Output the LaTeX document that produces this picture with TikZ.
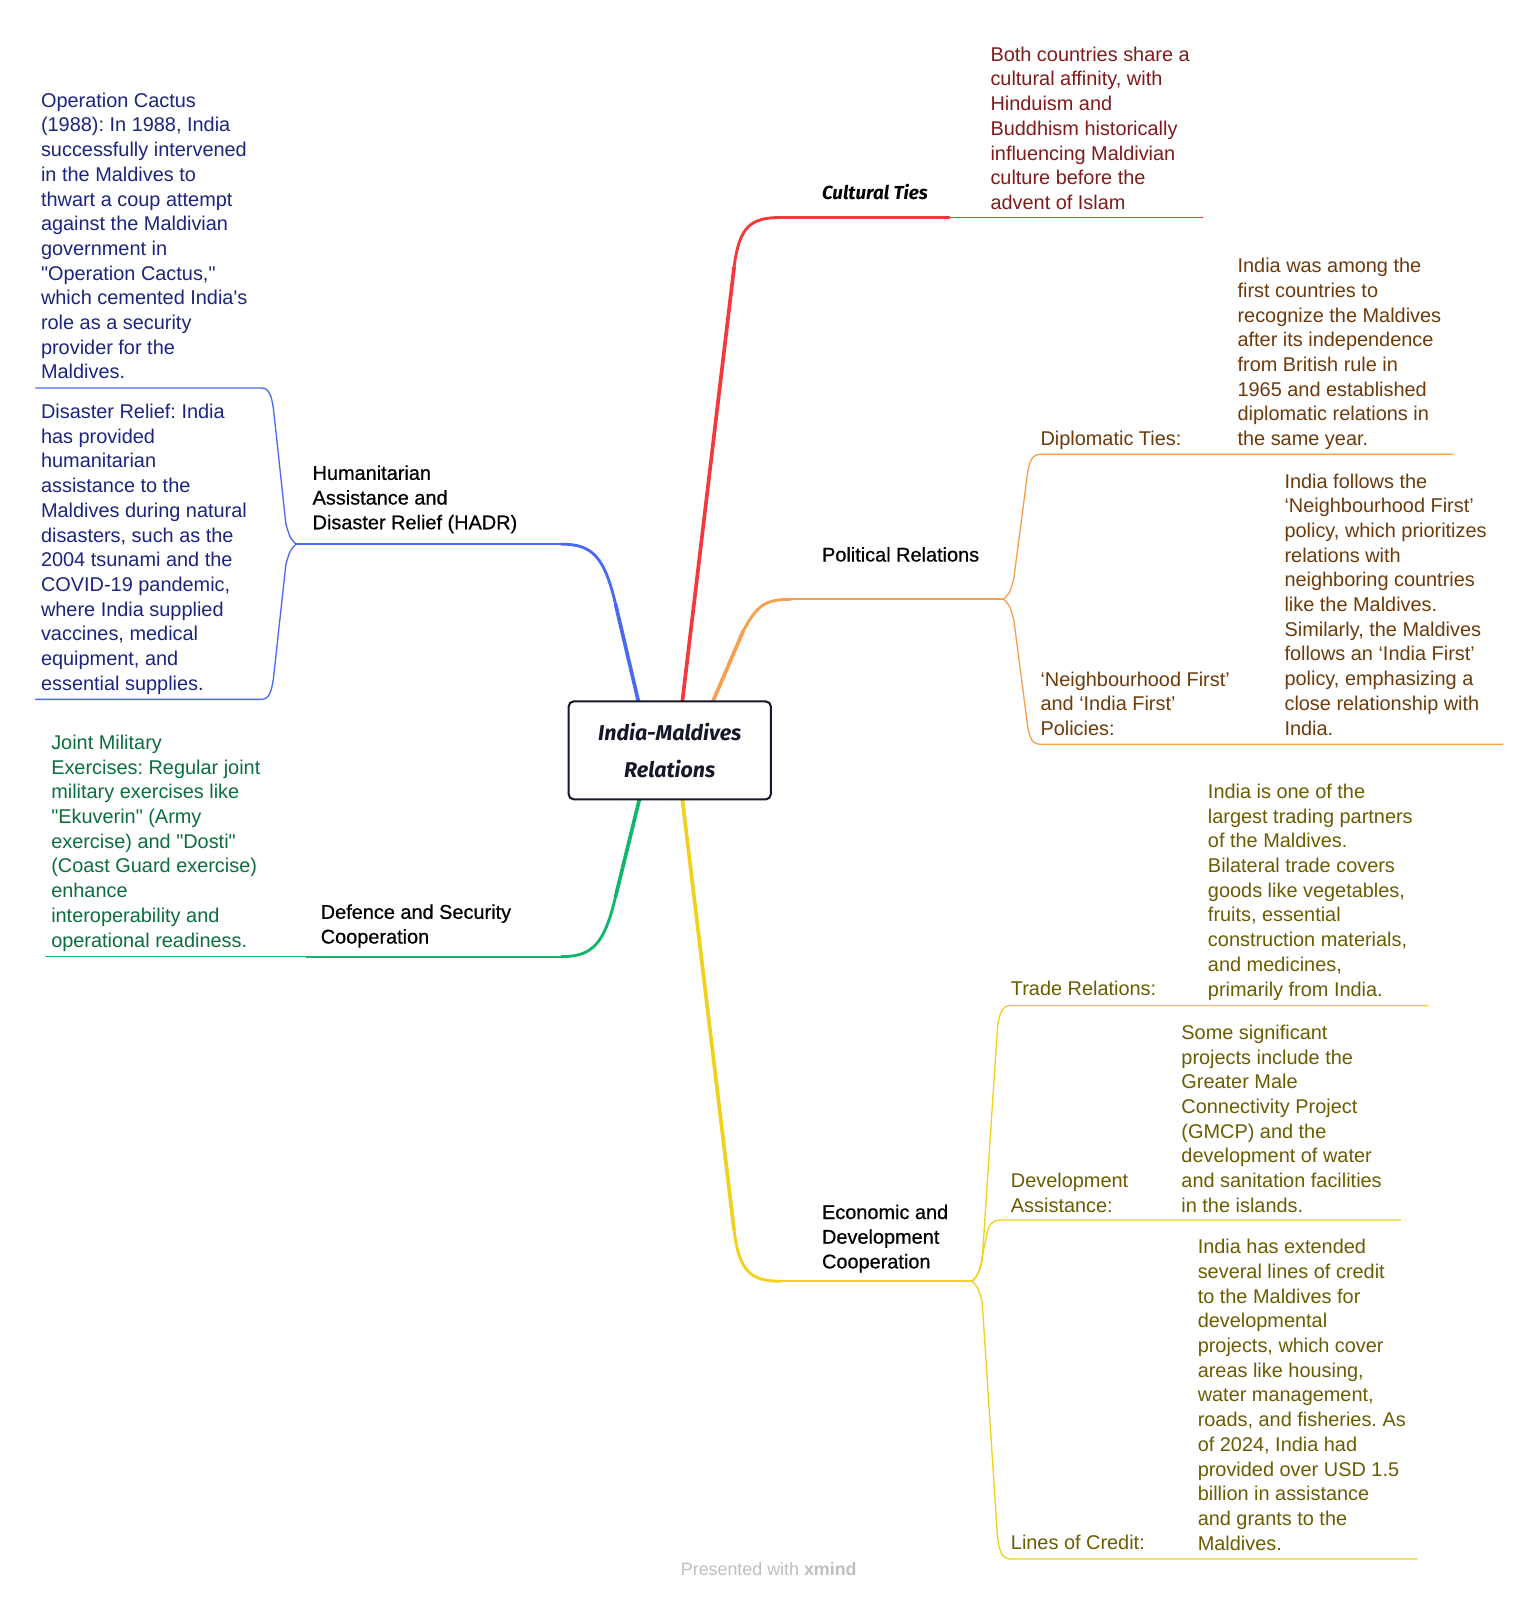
\documentclass[tikz,border=0pt]{standalone}
\usepackage{fontspec}
\setmainfont{Liberation Sans}[Ligatures=TeXOff]
\newfontfamily\handfont{Fira Sans}
\newfontfamily\medfont{Liberation Sans}[Ligatures=TeXOff,FakeBold=0.6]
\frenchspacing
\definecolor{cRed}{HTML}{F23A3A}
\definecolor{cOrange}{HTML}{F7A04E}
\definecolor{cBlue}{HTML}{4A6AF5}
\definecolor{cGreen}{HTML}{12B56C}
\definecolor{cYellow}{HTML}{F2D11C}
\definecolor{tRed}{HTML}{821A1A}
\definecolor{tBrown}{HTML}{6E3A0A}
\definecolor{tNavy}{HTML}{1B2580}
\definecolor{tGreen}{HTML}{0B6E3D}
\definecolor{tOlive}{HTML}{6B5C00}
\definecolor{cBox}{HTML}{15172A}
\newcommand\tbox[1]{\parbox[t]{420pt}{\raggedright\frenchspacing #1}}
\tikzset{
  mainw/.style={line width=3.6pt},
  bendw/.style={line width=2.8pt},
  hline/.style={line width=2.1pt},
  subw/.style={line width=1.3pt},
  txt/.style={inner sep=0pt, anchor=base west, font=\fontsize{19.5}{24.2}\selectfont},
  lbl/.style={inner sep=0pt, anchor=base west, text=black, font=\medfont\fontsize{19.5}{24.2}\selectfont},
  handlbl/.style={inner sep=0pt, anchor=base west, font=\handfont\bfseries\itshape\fontsize{18.5}{22}\selectfont}
}
\begin{document}
\begin{tikzpicture}[x=1pt,y=-1pt,line cap=round,line join=round]
\fill[white] (0,0) rectangle (1507.5,1567.2);
\useasboundingbox (0,0) rectangle (1507.5,1567.2);

% ---------- coordinates ----------
\coordinate (rS) at (668,690);
\coordinate (rC) at (765,213);
\coordinate (oS) at (697,690);
\coordinate (oF) at (983,587);
\coordinate (bS) at (626,690);
\coordinate (bF) at (290,533);
\coordinate (gS) at (627,780);
\coordinate (gE) at (45,937);
\coordinate (yS) at (668,780);
\coordinate (yF) at (952,1255);

% ---------- red branch ----------
\draw[mainw,cRed] (rS) -- (719,262);
\draw[bendw,cRed] (719,262) .. controls (724,222) and (735,213) .. (rC);
\draw[hline,cRed] (rC) -- (930,213);
\draw[subw,cRed] (930,213) -- (1178,213);

% ---------- orange branch ----------
\draw[mainw,cOrange] (oS) -- (728,618);
\draw[bendw,cOrange] (728,618) .. controls (742,592) and (750,587) .. (775,587);
\draw[hline,cOrange] (775,587) -- (oF);
\draw[subw,cOrange] (oF) .. controls (989,581) .. (993,567) -- (1006,467) .. controls (1008,451) and (1011,445) .. (1019,445) -- (1423,445);
\draw[subw,cOrange] (oF) .. controls (989,593) .. (993,607) -- (1006,707) .. controls (1008,723) and (1011,729) .. (1019,729) -- (1472,729);

% ---------- blue branch ----------
\draw[mainw,cBlue] (bS) -- (603,592);
\draw[bendw,cBlue] (603,592) .. controls (592,545) and (580,533) .. (550,533);
\draw[hline,cBlue] (550,533) -- (bF);
\draw[subw,cBlue] (bF) .. controls (284,527) .. (280,513) -- (268,402) .. controls (266,386) and (263,380) .. (256,380) -- (35,380);
\draw[subw,cBlue] (bF) .. controls (284,539) .. (280,553) -- (268,663) .. controls (266,679) and (263,685) .. (256,685) -- (35,685);

% ---------- green branch ----------
\draw[mainw,cGreen] (gS) -- (603,878);
\draw[bendw,cGreen] (603,878) .. controls (592,925) and (580,937) .. (550,937);
\draw[hline,cGreen] (550,937) -- (300,937);
\draw[subw,cGreen] (300,937) -- (gE);

% ---------- yellow branch ----------
\draw[mainw,cYellow] (yS) -- (719,1205);
\draw[bendw,cYellow] (719,1205) .. controls (724,1245) and (735,1255) .. (765,1255);
\draw[hline,cYellow] (765,1255) -- (yF);
\draw[subw,cYellow] (yF) .. controls (958,1249) .. (962,1235) -- (977,1007) .. controls (979,991) and (982,985) .. (990,985) -- (1398,985);
\draw[subw,cYellow] (yF) .. controls (957,1250) .. (960,1242) -- (966,1212) .. controls (968,1200) and (971,1195) .. (980,1195) -- (1372,1195);
\draw[subw,cYellow] (yF) .. controls (958,1261) .. (962,1275) -- (977,1505) .. controls (979,1521) and (982,1527) .. (990,1527) -- (1388,1527);

% ---------- central topic ----------
\node[draw=cBox, line width=2pt, rounded corners=5pt, fill=white,
      minimum width=198pt, minimum height=96pt, inner sep=0pt, align=center,
      font=\handfont\bfseries\itshape\fontsize{21}{36}\selectfont, text=cBox]
      (center) at (656,735) {India-Maldives\\Relations};

% ---------- labels ----------
\node[handlbl] (cult) at (805,195) {Cultural Ties};
\node[lbl] (pol) at (805,550) {Political Relations};
\node[lbl] (hadr) at (306,470) {\tbox{Humanitarian\\Assistance and\\Disaster Relief (HADR)}};
\node[lbl] (def) at (314,900) {\tbox{Defence and Security\\Cooperation}};
\node[lbl] (eco) at (805,1194) {\tbox{Economic and\\Development\\Cooperation}};

% ---------- cultural ----------
\node[txt,text=tRed] (cultT) at (970,60) {\tbox{Both countries share a\\cultural affinity, with\\Hinduism and\\Buddhism historically\\influencing Maldivian\\culture before the\\advent of Islam}};

% ---------- political ----------
\node[txt,text=tBrown] (dipL) at (1019,436) {Diplomatic Ties:};
\node[txt,text=tBrown] (dipT) at (1212,267) {\tbox{India was among the\\first countries to\\recognize the Maldives\\after its independence\\from British rule in\\1965 and established\\diplomatic relations in\\the same year.}};
\node[txt,text=tBrown] (nfL) at (1019,672) {\tbox{‘Neighbourhood First’\\and ‘India First’\\Policies:}};
\node[txt,text=tBrown] (nfT) at (1258,478) {\tbox{India follows the\\‘Neighbourhood First’\\policy, which prioritizes\\relations with\\neighboring countries\\like the Maldives.\\Similarly, the Maldives\\follows an ‘India First’\\policy, emphasizing a\\close relationship with\\India.}};

% ---------- HADR ----------
\node[txt,text=tNavy] (opT) at (40,105) {\tbox{Operation Cactus\\(1988): In 1988, India\\successfully intervened\\in the Maldives to\\thwart a coup attempt\\against the Maldivian\\government in\\"Operation Cactus,"\\which cemented India's\\role as a security\\provider for the\\Maldives.}};
\node[txt,text=tNavy] (drT) at (40,410) {\tbox{Disaster Relief: India\\has provided\\humanitarian\\assistance to the\\Maldives during natural\\disasters, such as the\\2004 tsunami and the\\COVID-19 pandemic,\\where India supplied\\vaccines, medical\\equipment, and\\essential supplies.}};

% ---------- defence ----------
\node[txt,text=tGreen] (jmT) at (50,734) {\tbox{Joint Military\\Exercises: Regular joint\\military exercises like\\"Ekuverin" (Army\\exercise) and "Dosti"\\(Coast Guard exercise)\\enhance\\interoperability and\\operational readiness.}};

% ---------- economic ----------
\node[txt,text=tOlive] (trL) at (990,975) {Trade Relations:};
\node[txt,text=tOlive] (trT) at (1183,782) {\tbox{India is one of the\\largest trading partners\\of the Maldives.\\Bilateral trade covers\\goods like vegetables,\\fruits, essential\\construction materials,\\and medicines,\\primarily from India.}};
\node[txt,text=tOlive] (daL) at (990,1163) {\tbox{Development\\Assistance:}};
\node[txt,text=tOlive] (daT) at (1157,1018) {\tbox{Some significant\\projects include the\\Greater Male\\Connectivity Project\\(GMCP) and the\\development of water\\and sanitation facilities\\in the islands.}};
\node[txt,text=tOlive] (lcL) at (990,1518) {Lines of Credit:};
\node[txt,text=tOlive] (lcT) at (1173,1228) {\tbox{India has extended\\several lines of credit\\to the Maldives for\\developmental\\projects, which cover\\areas like housing,\\water management,\\roads, and fisheries. As\\of 2024, India had\\provided over USD 1.5\\billion in assistance\\and grants to the\\Maldives.}};

% ---------- footer ----------
\node[inner sep=0pt, anchor=base, text=black!25, font=\fontsize{17.5}{20}\selectfont] (foot) at (753,1543) {Presented with \textbf{xmind}};
\end{tikzpicture}
\end{document}
